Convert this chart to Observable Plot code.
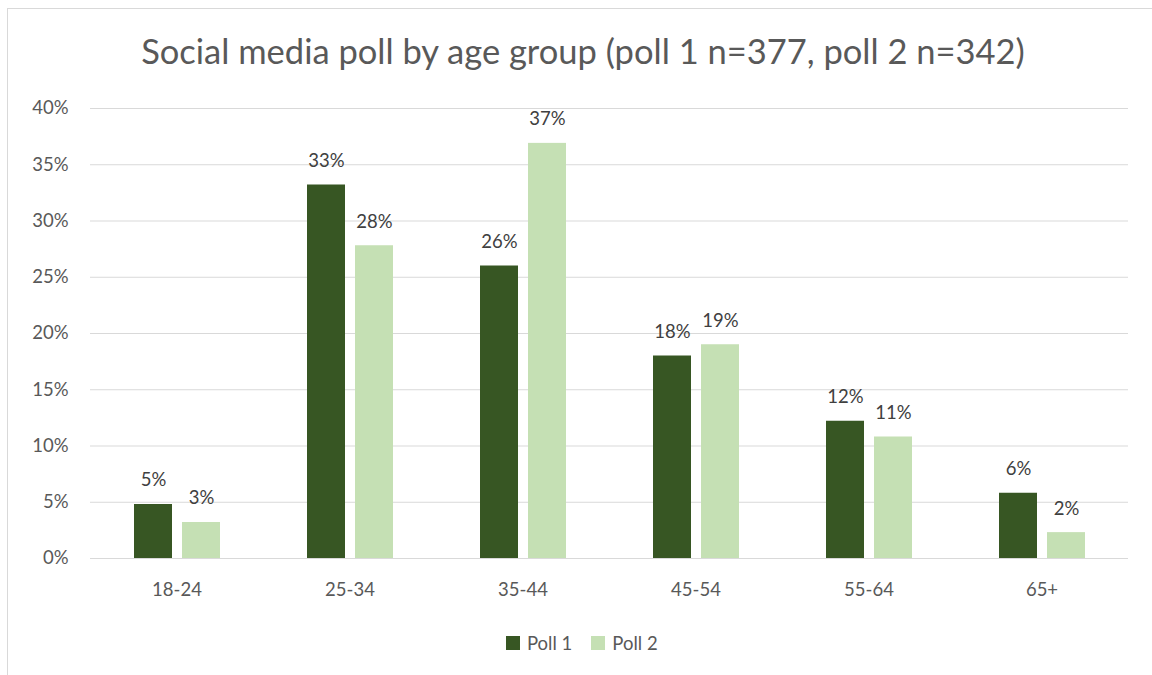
<!DOCTYPE html>
<html>
<head>
<meta charset="utf-8">
<script src="https://cdn.jsdelivr.net/npm/d3@7"></script>
<script src="https://cdn.jsdelivr.net/npm/@observablehq/plot@0.6"></script>
<style>
  html, body { margin: 0; padding: 0; background: #fff; overflow: hidden; }
  #wrap { position: relative; width: 1152px; height: 675px; font-family: Lato, "Open Sans", sans-serif; }
  #frame { position: absolute; left: 7px; top: 8px; width: 1300px; height: 800px; border-left: 1.5px solid #d9d9d9; border-top: 1.5px solid #d9d9d9; }
  #title { position: absolute; left: 0; width: 1166px; top: 34px; text-align: center; font-size: 34.5px; line-height: 1; color: #595959; white-space: nowrap; }
  #chart { position: absolute; left: 0; top: 0; }
  #legend { position: absolute; top: 633px; left: 506px; display: flex; align-items: center; font-size: 18.5px; color: #595959; line-height: 20px; }
  .sw { display: inline-block; width: 14px; height: 14px; margin-right: 7px; }
  .item { display: flex; align-items: center; margin-right: 19px; }
</style>
</head>
<body>
<div id="wrap">
  <div id="frame"></div>
  <div id="chart"></div>
  <div id="title">Social media poll by age group (poll 1 n=377, poll 2 n=342)</div>
  <div id="legend"></div>
</div>
<script>
const ageGroups = ["18-24", "25-34", "35-44", "45-54", "55-64", "65+"];
const seriesNames = ["Poll 1", "Poll 2"];
const poll1 = [0.048, 0.332, 0.260, 0.180, 0.122, 0.058];
const poll2 = [0.032, 0.278, 0.369, 0.190, 0.108, 0.023];
const seriesColors = ["#375623", "#C5E0B4"];
const yTicks = [0, 0.05, 0.10, 0.15, 0.20, 0.25, 0.30, 0.35, 0.40];

const data = [];
ageGroups.forEach((g, i) => {
  data.push({age: g, poll: seriesNames[0], value: poll1[i]});
  data.push({age: g, poll: seriesNames[1], value: poll2[i]});
});

const pct = d => Math.round(d * 100) + "%";

const chart = Plot.plot({
  width: 1152,
  height: 675,
  marginLeft: 88,
  marginRight: 22,
  marginTop: 108,
  marginBottom: 117,
  style: {fontFamily: "Lato, 'Open Sans', sans-serif", fontSize: "18.5px", color: "#595959", background: "transparent"},
  fx: {domain: ageGroups, padding: 0, label: null, axis: "bottom", tickSize: 0, tickPadding: 24},
  x: {domain: seriesNames, paddingInner: 0.214, paddingOuter: 0.88, axis: null},
  y: {domain: [0, 0.40], label: null},
  color: {domain: seriesNames, range: seriesColors},
  marks: [
    Plot.gridY(yTicks, {stroke: "#d9d9d9", strokeOpacity: 1, strokeWidth: 1.2}),
    Plot.barY(data, {fx: "age", x: "poll", y: "value", fill: "poll"}),
    Plot.text(data, {fx: "age", x: "poll", y: "value", text: d => pct(d.value), dy: -24, fill: "#404040", fontSize: 18.5}),
    Plot.axisY(yTicks, {tickFormat: pct, tickSize: 0, tickPadding: 22, fill: "#595959", fontSize: 18.5})
  ]
});
document.getElementById("chart").appendChild(chart);

const legend = document.getElementById("legend");
seriesNames.forEach((s, i) => {
  const item = document.createElement("span");
  item.className = "item";
  const sw = document.createElement("span");
  sw.className = "sw";
  sw.style.background = seriesColors[i];
  item.appendChild(sw);
  item.appendChild(document.createTextNode(s));
  legend.appendChild(item);
});
</script>
</body>
</html>
